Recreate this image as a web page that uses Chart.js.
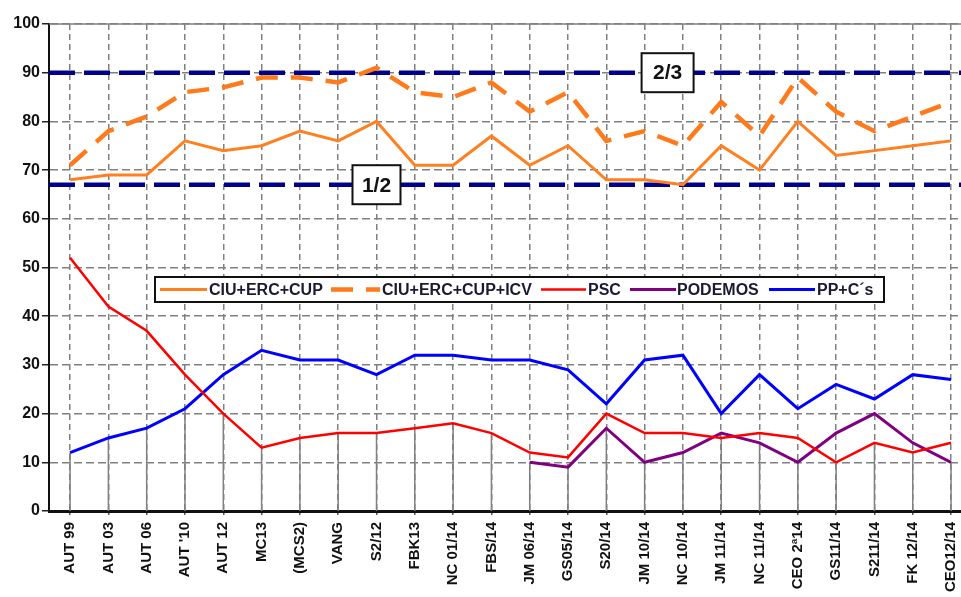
<!DOCTYPE html>
<html>
<head>
<meta charset="utf-8">
<script src="https://cdn.jsdelivr.net/npm/chart.js@4"></script>
<style>
  body { margin: 0; background: #fff; }
  canvas { display: block; }
</style>
</head>
<body>
<canvas id="chart" width="961" height="597"></canvas>
<script>
// --- data ---
const categories = ["AUT 99", "AUT 03", "AUT 06", "AUT '10", "AUT 12", "MC13", "(MCS2)", "VANG",
  "S2/12", "FBK13", "NC 01/14", "FBS/14", "JM 06/14", "GS05/14", "S20/14", "JM 10/14",
  "NC 10/14", "JM 11/14", "NC 11/14", "CEO 2ª14", "GS11/14", "S211/14", "FK 12/14", "CEO12/14"];

const ciuErcCup    = [68, 69, 69, 76, 74, 75, 78, 76, 80, 71, 71, 77, 71, 75, 68, 68, 67, 75, 70, 80, 73, 74, 75, 76];
const ciuErcCupIcv = [71, 78, 81, 86, 87, 89, 89, 88, 91, 86, 85, 88, 82, 86, 76, 78, 75, 84, 77, 89, 82, 78, 81, 84];
const psc          = [52, 42, 37, 28, 20, 13, 15, 16, 16, 17, 18, 16, 12, 11, 20, 16, 16, 15, 16, 15, 10, 14, 12, 14];
const podemos      = [null, null, null, null, null, null, null, null, null, null, null, null,
                      10, 9, 17, 10, 12, 16, 14, 10, 16, 20, 14, 10];
const ppCs         = [12, 15, 17, 21, 28, 33, 31, 31, 28, 32, 32, 31, 31, 29, 22, 31, 32, 20, 28, 21, 26, 23, 28, 27];

const yTicks = [0, 10, 20, 30, 40, 50, 60, 70, 80, 90, 100];
const thresholds = [90, 67];
const thresholdLabels = ["2/3", "1/2"];

const seriesNames = ["CIU+ERC+CUP", "CIU+ERC+CUP+ICV", "PSC", "PODEMOS", "PP+C´s"];
const allSeries = [ciuErcCup, ciuErcCupIcv, psc, podemos, ppCs];

const pts = arr => arr.map((v, i) => ({ x: i, y: v }));
const FONT = "'Liberation Sans', Arial, sans-serif";

// solid grey drop line under the lowest series at each category
const dropLines = {
  id: "dropLines",
  beforeDatasetsDraw(chart) {
    const { ctx, scales: { x, y } } = chart;
    ctx.save();
    ctx.strokeStyle = "#808080";
    ctx.lineWidth = 1.5;
    categories.forEach((c, i) => {
      const vals = allSeries.map(s => s[i]).filter(v => v != null);
      const lo = Math.min(...vals);
      const px = x.getPixelForValue(i);
      ctx.beginPath();
      ctx.moveTo(px, y.getPixelForValue(0));
      ctx.lineTo(px, y.getPixelForValue(lo));
      ctx.stroke();
    });
    // solid top frame
    const a = chart.chartArea;
    ctx.beginPath();
    ctx.moveTo(a.left, a.top);
    ctx.lineTo(a.right, a.top);
    ctx.stroke();
    ctx.restore();
  }
};

// 1/2 and 2/3 majority lines
const thresholdLines = {
  id: "thresholdLines",
  beforeDatasetsDraw(chart) {
    const { ctx, chartArea: a, scales: { y } } = chart;
    ctx.save();
    ctx.strokeStyle = "#00008b";
    ctx.lineWidth = 4.5;
    ctx.setLineDash([26, 9]);
    thresholds.forEach(v => {
      const py = y.getPixelForValue(v);
      ctx.beginPath();
      ctx.moveTo(a.left, py);
      ctx.lineTo(a.right, py);
      ctx.stroke();
    });
    ctx.restore();
  },
  afterDatasetsDraw(chart, args, opts) {
    const { ctx, scales: { x, y } } = chart;
    ctx.save();
    thresholds.forEach((v, k) => {
      const cx = x.getPixelForValue(opts.at[k]);
      const cy = y.getPixelForValue(v);
      const w = opts.w[k], h = 39;
      ctx.fillStyle = "#fff";
      ctx.fillRect(cx - w / 2, cy - h / 2, w, h);
      ctx.strokeStyle = "#111";
      ctx.lineWidth = 2;
      ctx.strokeRect(cx - w / 2, cy - h / 2, w, h);
      ctx.fillStyle = "#111";
      ctx.font = "bold 21px " + FONT;
      ctx.textAlign = "center";
      ctx.textBaseline = "middle";
      ctx.fillText(thresholdLabels[k], cx, cy + 1);
    });
    ctx.restore();
  }
};

// legend box drawn inside the plot
const boxLegend = {
  id: "boxLegend",
  afterDatasetsDraw(chart) {
    const { ctx } = chart;
    const ds = chart.data.datasets;
    const left = 155, top = 277, right = 884, bottom = 302;
    ctx.save();
    ctx.fillStyle = "#fff";
    ctx.fillRect(left, top, right - left, bottom - top);
    ctx.strokeStyle = "#111";
    ctx.lineWidth = 2;
    ctx.strokeRect(left, top, right - left, bottom - top);
    const my = (top + bottom) / 2;
    const items = [
      { x0: 160, x1: 207, tx: 209 },
      { x0: 331, x1: 380, tx: 382 },
      { x0: 541, x1: 586, tx: 588 },
      { x0: 630, x1: 676, tx: 677 },
      { x0: 769, x1: 815, tx: 817 }
    ];
    items.forEach((it, k) => {
      const d = ds[k];
      ctx.strokeStyle = d.borderColor;
      ctx.lineWidth = d.borderWidth;
      ctx.setLineDash(d.borderDash || []);
      ctx.beginPath();
      ctx.moveTo(it.x0, my);
      ctx.lineTo(it.x1, my);
      ctx.stroke();
      ctx.setLineDash([]);
      ctx.fillStyle = "#1a1a33";
      ctx.font = "bold 16px " + FONT;
      ctx.textAlign = "left";
      ctx.textBaseline = "middle";
      ctx.fillText(seriesNames[k], it.tx, my + 1);
    });
    ctx.restore();
  }
};

const datasets = [
  { label: seriesNames[0], data: pts(ciuErcCup), borderColor: "#ff8020", borderWidth: 3 },
  { label: seriesNames[1], data: pts(ciuErcCupIcv), borderColor: "#ff7a1a", borderWidth: 4.5, borderDash: [22, 13] },
  { label: seriesNames[2], data: pts(psc), borderColor: "#ff0000", borderWidth: 2.5 },
  { label: seriesNames[3], data: pts(podemos), borderColor: "#800080", borderWidth: 3 },
  { label: seriesNames[4], data: pts(ppCs), borderColor: "#0000ff", borderWidth: 3 }
].map(d => Object.assign({ pointRadius: 0, fill: false, tension: 0, spanGaps: false }, d));

new Chart(document.getElementById("chart"), {
  type: "line",
  data: { datasets },
  options: {
    responsive: false,
    animation: false,
    layout: { padding: { top: 24, left: 0, right: 0, bottom: 0 } },
    plugins: {
      legend: { display: false },
      tooltip: { enabled: false },
      thresholdLines: { at: [15.6, 8], w: [52, 48] }
    },
    scales: {
      x: {
        type: "linear",
        min: -0.55,
        max: 23.26,
        afterBuildTicks: s => { s.ticks = categories.map((c, i) => ({ value: i })); },
        afterFit: s => { s.height = 86; s.paddingLeft = 0; s.paddingRight = 0; },
        ticks: {
          autoSkip: false,
          minRotation: 90,
          maxRotation: 90,
          padding: 7,
          color: "#111",
          font: { family: FONT, size: 15, weight: "bold" },
          callback: v => categories[v]
        },
        grid: { color: "#808080", lineWidth: 1.5, tickLength: 4, tickColor: "#555" },
        border: { color: "#111", width: 3, dash: [6, 4] }
      },
      y: {
        min: 0,
        max: 100,
        afterBuildTicks: s => { s.ticks = yTicks.map(v => ({ value: v })); },
        afterFit: s => { s.width = 49; s.paddingTop = 0; s.paddingBottom = 0; },
        ticks: {
          padding: 2,
          color: "#111",
          font: { family: FONT, size: 16, weight: "bold" }
        },
        grid: { color: "#808080", lineWidth: 1.5, tickLength: 7, tickColor: "#222" },
        border: { color: "#111", width: 2, dash: [8, 4] }
      }
    }
  },
  plugins: [dropLines, thresholdLines, boxLegend]
});
</script>
</body>
</html>
